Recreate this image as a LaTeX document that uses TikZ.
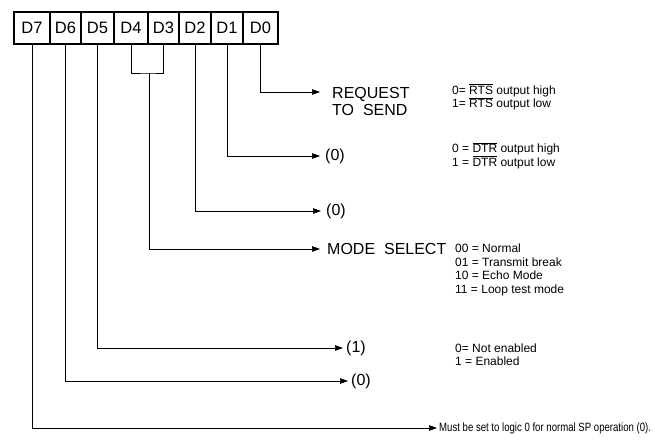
\documentclass[tikz,border=0pt]{standalone}
\usepackage{fontspec}
\setmainfont{Liberation Sans}
\newfontfamily\narrow[FakeStretch=0.8]{Liberation Sans}
\usetikzlibrary{arrows.meta}
\newcommand\ovl[1]{$\overline{\hbox{#1}}$}
\begin{document}
\begin{tikzpicture}[x=1pt,y=-1pt,
 cell/.style={draw, line width=1.1pt, minimum height=32pt, inner sep=0pt, font=\fontsize{16.5}{16.5}\selectfont},
 conn/.style={line width=0.7pt, -{Triangle[length=8pt,width=5.5pt]}},
 wire/.style={line width=0.7pt},
 big/.style={font=\fontsize{16}{17}\selectfont, inner sep=0pt, anchor=west, align=left},
 small/.style={inner sep=0pt, anchor=west, align=left}]
\useasboundingbox (0,0) rectangle (655,444);
% register cells
\node[cell, minimum width=36pt] (d7) at (32,28) {D7};
\node[cell, minimum width=31pt] (d6) at (65.5,28) {D6};
\node[cell, minimum width=33pt] (d5) at (97.5,28) {D5};
\node[cell, minimum width=34pt] (d4) at (131,28) {D4};
\node[cell, minimum width=31pt] (d3) at (163.5,28) {D3};
\node[cell, minimum width=32pt] (d2) at (195,28) {D2};
\node[cell, minimum width=32pt] (d1) at (227,28) {D1};
\node[cell, minimum width=35pt] (d0) at (260.5,28) {D0};
% arrow end points
\coordinate (e0) at (320,92);
\coordinate (e1) at (320,156);
\coordinate (e2) at (321,211);
\coordinate (e3) at (320,249);
\coordinate (e5) at (343,348);
\coordinate (e6) at (348,381);
\coordinate (e7) at (437,428);
\coordinate (m34) at (149,73);
% connectors
\draw[conn] (d0.south) |- (e0);
\draw[conn] (d1.south) |- (e1);
\draw[conn] (d2.south) |- (e2);
\draw[wire] (d4.south) |- (m34) -| (d3.south);
\draw[conn] (m34) |- (e3);
\draw[conn] (d5.south) |- (e5);
\draw[conn] (d6.south) |- (e6);
\draw[conn] (d7.south) |- (e7);
% big labels
\node[big] (l0) at (332,101) {REQUEST\\TO\ \ SEND};
\node[big] (l1) at (325,156) {(0)};
\node[big] (l2) at (326,211) {(0)};
\node[big] (l3) at (327,249) {MODE\ \ SELECT};
\node[big] (l5) at (346,348) {(1)};
\node[big] (l6) at (351,381) {(0)};
\node[small, font=\narrow\fontsize{12}{12}\selectfont] (l7) at (439,428) {Must be set to logic 0 for normal SP operation (0).};
% small descriptions
\node[small, font=\fontsize{12}{11.5}\selectfont] (r0) at (452,97) {0= \ovl{RTS} output high\\1= \ovl{RTS} output low};
\node[small, font=\fontsize{12}{12.5}\selectfont] (r1) at (452,155.5) {0 = \ovl{DTR} output high\\1 = \ovl{DTR} output low};
\node[small, font=\fontsize{12}{13.5}\selectfont] (r3) at (455,270) {00 = Normal\\01 = Transmit break\\10 = Echo Mode\\11 = Loop test mode};
\node[small, font=\fontsize{12}{13}\selectfont] (r5) at (455,355) {0= Not enabled\\1 = Enabled};
\end{tikzpicture}
\end{document}
